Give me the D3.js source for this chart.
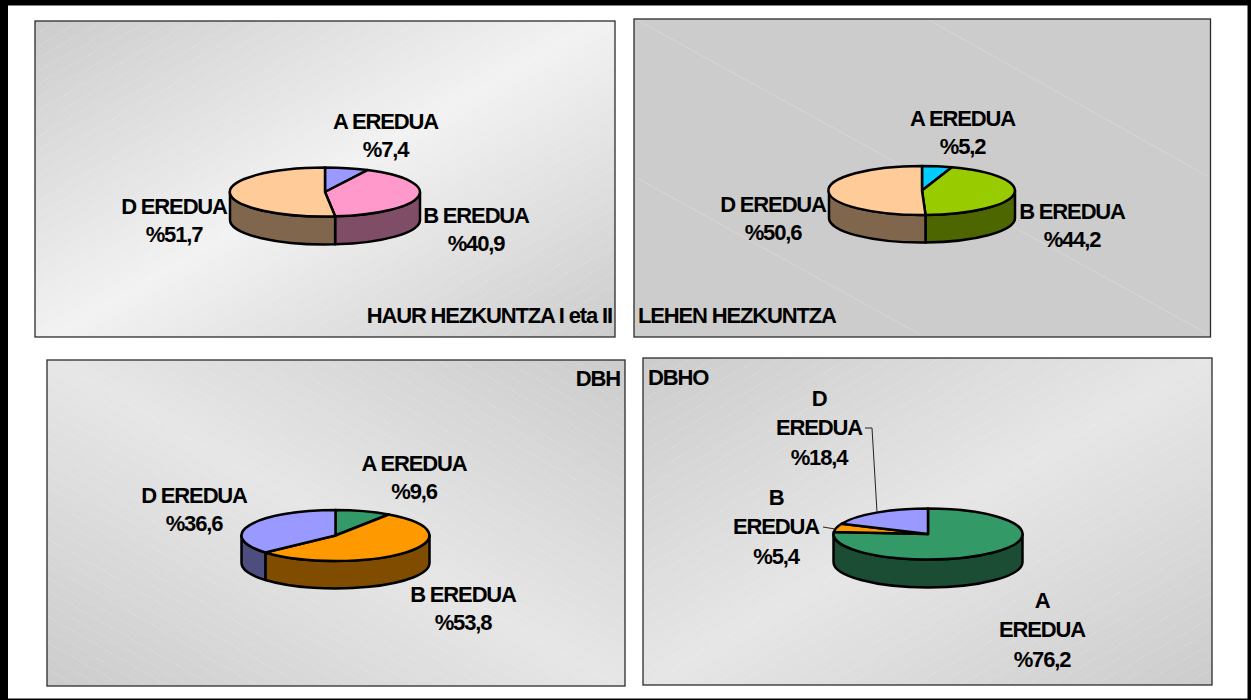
<!DOCTYPE html>
<html>
<head>
<meta charset="utf-8">
<script src="https://cdn.jsdelivr.net/npm/d3@7/dist/d3.min.js"></script>
<style>
html,body{margin:0;padding:0;background:#fff;overflow:hidden}
svg{display:block}
text{font-family:"Liberation Sans",Arial,sans-serif;font-weight:bold;fill:#000;font-size:22px;letter-spacing:-1.15px}
</style>
</head>
<body>
<svg id="c" width="1251" height="700"></svg>
<script>
// ---- data ----
const panelTitles = ["HAUR HEZKUNTZA I eta II", "LEHEN HEZKUNTZA", "DBH", "DBHO"];
const categories = ["A EREDUA", "B EREDUA", "D EREDUA"];
const haurValues = [7.4, 40.9, 51.7];
const lehenValues = [5.2, 44.2, 50.6];
const dbhValues = [9.6, 53.8, 36.6];
const dbhoValues = [76.2, 5.4, 18.4];
const haurColors = ["#9999FF", "#FF99CC", "#FFCC99"];
const lehenColors = ["#00CCFF", "#99CC00", "#FFCC99"];
const dbhColors = ["#339966", "#FF9900", "#9999FF"];
const dbhoColors = ["#339966", "#FF9900", "#9999FF"];

// ---- layout ----
const layouts = [
 {values:haurValues, colors:haurColors, title:panelTitles[0], box:[35,21,615,337], pie:[325,192,95,24.5,28],
  grad:{dir:[.5,.866],mid:"#f2f2f2"}, titlePos:[612,323,"end"],
  labels:[[385.5,128.5,0],[476,222.5,1],[174,213.5,2]], wrap:false},
 {values:lehenValues, colors:lehenColors, title:panelTitles[1], box:[634,19,1210.5,337], pie:[922,190.5,93,24.5,27.5],
  grad:null, titlePos:[638,322.5,"start"],
  labels:[[962.5,125.5,0],[1072,218.5,1],[773,211.5,2]], wrap:false},
 {values:dbhValues, colors:dbhColors, title:panelTitles[2], box:[47,360,625,686], pie:[335.5,535.5,94,25.5,27.5],
  grad:{dir:[-.5,.866],mid:"#e6e6e6"}, titlePos:[620,385.5,"end"],
  labels:[[414,470.5,0],[463,601.5,1],[194,502.5,2]], wrap:false},
 {values:dbhoValues, colors:dbhoColors, title:panelTitles[3], box:[643,358,1212,685], pie:[928,534,94.5,25.5,28],
  grad:{dir:[.5,.866],mid:"#e6e6e6"}, titlePos:[648,384.5,"start"],
  labels:[[1042,607.5,0],[776,504.5,1],[819,405.5,2]], wrap:true,
  leaders:[[[865,428],[872,428],[877,512]],[[823,527],[835,529]]]}
];
const stripeGap = 13, lineHeight = 28, wrapHeight = 29.5;

const svg = d3.select("#c");
const defs = svg.append("defs");
const fmt = v => "%" + String(v).replace(".", ",");
const darker = c => { const q = d3.rgb(c); return d3.rgb(q.r*.5, q.g*.5, q.b*.5).formatHex(); };

// outer frame
svg.append("rect").attr("width",1251).attr("height",700).attr("fill","#000");
svg.append("rect").attr("x",8).attr("y",5.5).attr("width",1239.5).attr("height",693).attr("fill","#fff");

const pieGen = d3.pie().sort(null).value(d => d);
const unitArc = d3.arc().innerRadius(0).outerRadius(1);

layouts.forEach((p, i) => {
  const [x0,y0,x1,y1] = p.box, w = x1-x0, h = y1-y0;
  const g = svg.append("g");
  let fill = "#cccccc";
  if (p.grad) {
    const cx=(x0+x1)/2, cy=(y0+y1)/2, [dx,dy]=p.grad.dir;
    const ext = Math.abs(dx)*w/2 + Math.abs(dy)*h/2;
    const lg = defs.append("linearGradient").attr("id","g"+i).attr("gradientUnits","userSpaceOnUse")
      .attr("x1",cx-dx*ext).attr("y1",cy-dy*ext).attr("x2",cx+dx*ext).attr("y2",cy+dy*ext);
    lg.append("stop").attr("offset",0).attr("stop-color","#cccccc");
    lg.append("stop").attr("offset",.5).attr("stop-color",p.grad.mid);
    lg.append("stop").attr("offset",1).attr("stop-color","#cccccc");
    fill = `url(#g${i})`;
  }
  defs.append("clipPath").attr("id","cl"+i).append("rect").attr("x",x0).attr("y",y0).attr("width",w).attr("height",h);
  g.append("rect").attr("x",x0).attr("y",y0).attr("width",w).attr("height",h).attr("fill",fill);

  // background banding
  const st = g.append("g").attr("clip-path",`url(#cl${i})`);
  if (p.grad) {
    const s = p.grad.dir[0] > 0 ? -0.577 : 0.577;
    st.selectAll("line").data(d3.range(-60,60)).join("line")
      .attr("x1",x0-20).attr("x2",x1+20)
      .attr("y1",d => (y0+y1)/2 + d*stripeGap - s*(w/2+20))
      .attr("y2",d => (y0+y1)/2 + d*stripeGap + s*(w/2+20))
      .attr("stroke","#fff").attr("stroke-opacity",.22).attr("stroke-width",1).attr("stroke-dasharray","2 2");
  } else {
    st.selectAll("line").data([[637,178,921,335],[637,20,1210,335],[929,20,1209,177]]).join("line")
      .attr("x1",d=>d[0]).attr("y1",d=>d[1]).attr("x2",d=>d[2]).attr("y2",d=>d[3])
      .attr("stroke","#fff").attr("stroke-opacity",.22).attr("stroke-width",1);
  }
  g.append("rect").attr("x",x0).attr("y",y0).attr("width",w).attr("height",h)
    .attr("fill","none").attr("stroke","#2b2b2b").attr("stroke-width",1.3);

  // pie
  const [cx,cy,rx,ry,depth] = p.pie;
  const arcs = pieGen(p.values);
  const pg = g.append("g");
  // side walls: only the part of each slice facing the viewer (pi/2 .. 3pi/2)
  const sx = a => cx + rx*Math.sin(a), sy = a => cy - ry*Math.cos(a);
  arcs.forEach((a, k) => {
    const s = Math.max(a.startAngle, Math.PI/2), e = Math.min(a.endAngle, 3*Math.PI/2);
    if (e <= s) return;
    const large = (e-s) > Math.PI ? 1 : 0;
    const dStr = `M${sx(s)},${sy(s)} A${rx},${ry} 0 ${large} 1 ${sx(e)},${sy(e)} L${sx(e)},${sy(e)+depth} A${rx},${ry} 0 ${large} 0 ${sx(s)},${sy(s)+depth} Z`;
    pg.append("path").attr("d",dStr).attr("fill",darker(p.colors[k]))
      .attr("stroke","#000").attr("stroke-width",2.5).attr("stroke-linejoin","round");
  });
  const top = pg.append("g").attr("transform",`translate(${cx},${cy}) scale(${rx},${ry})`);
  top.selectAll("path").data(arcs).join("path")
    .attr("d",unitArc).attr("fill",(d,k)=>p.colors[k])
    .attr("stroke","#000").attr("stroke-width",2.5).attr("stroke-linejoin","round")
    .attr("vector-effect","non-scaling-stroke");

  // leaders
  (p.leaders||[]).forEach(l => {
    g.append("path").attr("d",d3.line()(l)).attr("fill","none").attr("stroke","#222").attr("stroke-width",1);
  });

  // labels
  p.labels.forEach(([lx,ly,k]) => {
    const lines = p.wrap ? categories[k].split(" ").concat(fmt(p.values[k])) : [categories[k], fmt(p.values[k])];
    const step = p.wrap ? wrapHeight : lineHeight;
    lines.forEach((t,n) => {
      g.append("text").attr("x",lx).attr("y",ly+n*step).attr("text-anchor","middle").text(t);
    });
  });
  g.append("text").attr("x",p.titlePos[0]).attr("y",p.titlePos[1]).attr("text-anchor",p.titlePos[2])
    .text(p.title);
});
</script>
</body>
</html>
